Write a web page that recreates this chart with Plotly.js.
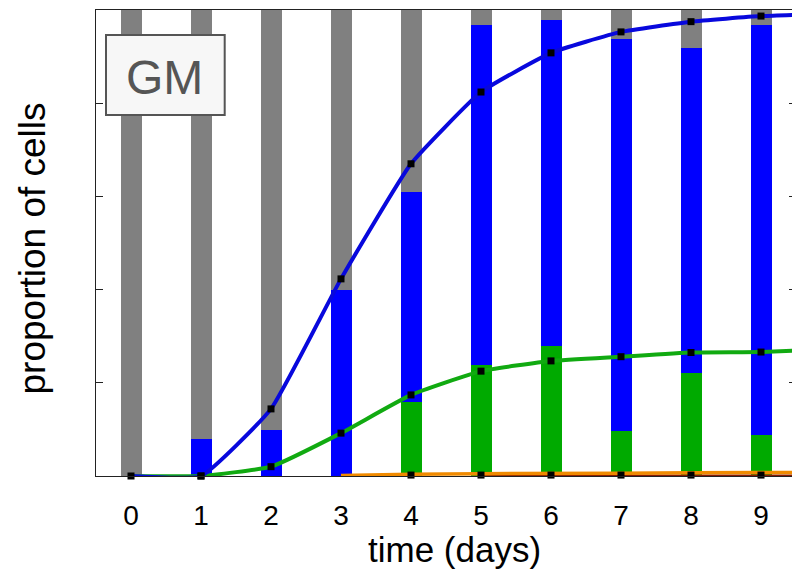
<!DOCTYPE html>
<html>
<head>
<meta charset="utf-8">
<script src="https://cdn.plot.ly/plotly-3.0.1.min.js"></script>
<style>
html, body { margin: 0; padding: 0; overflow: hidden; background: #fff; }
#chart { width: 800px; height: 571px; }
</style>
</head>
<body>
<div id="chart"></div>
<script>
// ---- data ----
const days = [0, 1, 2, 3, 4, 5, 6, 7, 8, 9];
const tickLabels = ['0', '1', '2', '3', '4', '5', '6', '7', '8', '9'];

// stacked bar fractions (bottom -> top)
const greenFrac = [0, 0, 0, 0, 0.159, 0.238, 0.279, 0.097, 0.221, 0.088];
const blueFrac  = [0, 0.080, 0.099, 0.400, 0.450, 0.730, 0.700, 0.841, 0.698, 0.880];
const greyFrac  = [1, 0.920, 0.901, 0.600, 0.391, 0.032, 0.021, 0.062, 0.081, 0.032];

// model curves (days 0..10, plot is cut at the right)
const curveDays   = [0, 1, 2, 3, 4, 5, 6, 7, 8, 9, 10];
const blueCurve   = [0, 0, 0.144, 0.423, 0.670, 0.824, 0.908, 0.953, 0.975, 0.987, 0.992];
const greenCurve  = [0, 0, 0.020, 0.092, 0.174, 0.225, 0.247, 0.256, 0.265, 0.266, 0.272];
const orangeDays  = [3, 4, 5, 6, 7, 8, 9, 10];
const orangeCurve = [0.001, 0.004, 0.005, 0.005, 0.006, 0.007, 0.007, 0.008];
const redDays     = [5, 6, 7, 8, 9, 10];
const redCurve    = [0, 0, 0, 0, 0, 0];

// measured points (black squares)
const blueObsDays  = [0, 1, 2, 3, 4, 5, 6, 7, 8, 9];
const blueObs      = [0, 0, 0.144, 0.423, 0.670, 0.824, 0.908, 0.953, 0.975, 0.987];
const greenObsDays = [1, 2, 3, 4, 5, 6, 7, 8, 9];
const greenObs     = [0, 0.020, 0.092, 0.174, 0.225, 0.247, 0.256, 0.265, 0.266];
const lowObsDays   = [4, 5, 6, 7, 8, 9];
const lowObs       = [0.002, 0.002, 0.002, 0.002, 0.002, 0.002];

const panelLabel = 'GM';

const FONT = 'Arial, "Liberation Sans", sans-serif';
const barW = 0.3;
const mk = {symbol: 'square', size: 7, color: '#000'};

const traces = [
  {type: 'bar', x: days, y: greenFrac, width: barW, marker: {color: '#00aa00', line: {width: 0}}},
  {type: 'bar', x: days, y: blueFrac,  width: barW, marker: {color: '#0000ff', line: {width: 0}}},
  {type: 'bar', x: days, y: greyFrac,  width: barW, marker: {color: '#808080', line: {width: 0}}},
  {type: 'scatter', mode: 'lines', x: redDays, y: redCurve, line: {color: '#8b1a00', width: 3}},
  {type: 'scatter', mode: 'lines', x: orangeDays, y: orangeCurve, line: {color: '#f08a00', width: 3.5}},
  {type: 'scatter', mode: 'lines', x: curveDays, y: greenCurve, line: {color: '#11aa11', width: 4, shape: 'spline', smoothing: 0.4}},
  {type: 'scatter', mode: 'lines', x: curveDays, y: blueCurve, line: {color: '#0808dd', width: 4, shape: 'spline', smoothing: 0.4}},
  {type: 'scatter', mode: 'markers', x: lowObsDays, y: lowObs, marker: mk, cliponaxis: false},
  {type: 'scatter', mode: 'markers', x: greenObsDays, y: greenObs, marker: mk, cliponaxis: false},
  {type: 'scatter', mode: 'markers', x: blueObsDays, y: blueObs, marker: mk, cliponaxis: false}
];

const W = 700, H = 466, L = 96, T = 10;
const px = v => (v - L) / W;
const py = v => (T + H - v) / H;

const layout = {
  width: 800, height: 571,
  margin: {l: 96, r: 4, t: 10, b: 95},
  paper_bgcolor: '#fff', plot_bgcolor: '#fff',
  barmode: 'stack', bargap: 0,
  showlegend: false,
  hovermode: false,
  font: {family: FONT, color: '#000'},
  xaxis: {
    range: [-0.5, 9.5], tickvals: days, ticktext: tickLabels,
    ticks: '', showgrid: false, zeroline: false,
    showline: true, linecolor: '#222', linewidth: 1, mirror: true,
    tickfont: {size: 28, family: FONT, color: '#000'}, ticklabelstandoff: 14
  },
  yaxis: {
    range: [0, 1], tickvals: [0.2, 0.4, 0.6, 0.8],
    ticks: 'inside', ticklen: 7, tickcolor: '#222', tickwidth: 1,
    showticklabels: false, showgrid: false, zeroline: false,
    showline: true, linecolor: '#222', linewidth: 1, mirror: 'ticks'
  },
  shapes: [
    {type: 'rect', xref: 'paper', yref: 'paper', layer: 'above',
     x0: px(106), x1: px(224.7), y0: py(115), y1: py(35),
     fillcolor: '#f7f7f7', line: {color: '#555', width: 2}}
  ],
  annotations: [
    {text: panelLabel, xref: 'paper', yref: 'paper', x: px(164.7), y: py(77),
     xanchor: 'center', yanchor: 'middle', showarrow: false,
     font: {size: 48, family: FONT, color: '#555'}},
    {text: 'time (days)', xref: 'paper', yref: 'paper', x: px(454), y: py(549),
     xanchor: 'center', yanchor: 'middle', showarrow: false,
     font: {size: 35, family: FONT, color: '#000'}},
    {text: 'proportion of cells', xref: 'paper', yref: 'paper', x: px(32), y: py(248.5),
     xanchor: 'center', yanchor: 'middle', showarrow: false, textangle: -90,
     font: {size: 37, family: FONT, color: '#000'}}
  ]
};

Plotly.newPlot('chart', traces, layout, {displayModeBar: false, staticPlot: true});
</script>
</body>
</html>
